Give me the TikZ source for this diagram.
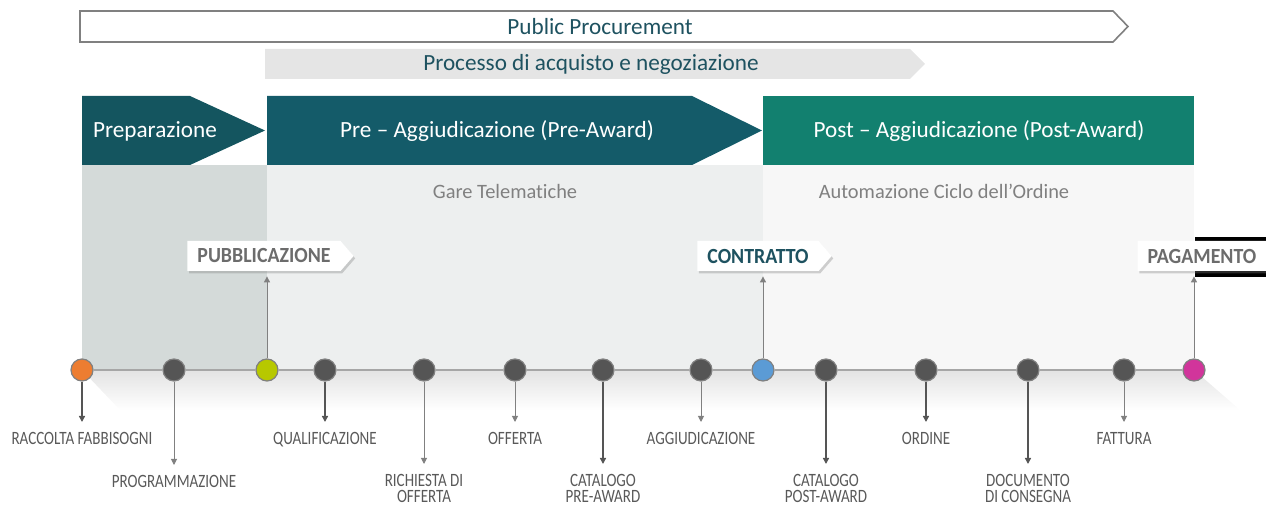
\documentclass[tikz,border=0pt]{standalone}
\usepackage{fontspec}
\setmainfont[Ligatures=NoCommon]{Carlito}
\newfontfamily\narrowfont[FakeStretch=0.8]{Carlito}
\newfontfamily\tagfont[FakeStretch=0.92]{Carlito}
\usetikzlibrary{arrows.meta,shadows,shapes.symbols}
\definecolor{tealprep}{HTML}{14555F}
\definecolor{tealpre}{HTML}{145B69}
\definecolor{tealpost}{HTML}{12806F}
\definecolor{tealtext}{HTML}{1E5260}
\definecolor{colprep}{HTML}{D4DAD9}
\definecolor{colpre}{HTML}{EDEFEF}
\definecolor{colpost}{HTML}{F7F7F7}
\definecolor{dotgray}{HTML}{555555}
\definecolor{linegray}{HTML}{A6A6A6}
\definecolor{labgray}{HTML}{595959}
\definecolor{dotorange}{HTML}{ED7D31}
\definecolor{dotlime}{HTML}{B7C800}
\definecolor{dotblue}{HTML}{5B9BD5}
\definecolor{dotpink}{HTML}{D1359B}
\tikzset{
  head/.style={font=\fontsize{11.6}{13}\selectfont, text=tealtext, inner sep=0pt},
  phase/.style={font=\fontsize{11.6}{13}\selectfont, text=white, inner sep=0pt},
  sub/.style={font=\fontsize{10.2}{12}\selectfont, text=gray, inner sep=0pt},
  dot/.style={circle, fill=dotgray, draw=gray, line width=0.6pt, minimum size=11pt, inner sep=0pt},
  lbl/.style={font=\narrowfont\fontsize{9.4}{8}\selectfont, text=labgray, align=center, inner sep=0pt, anchor=north},
  down/.style={draw=gray, line width=0.5pt, shorten >=5pt, -{Triangle[length=3pt,width=3pt]}},
  downdark/.style={down, draw=dotgray, line width=0.7pt},
  up/.style={draw=gray, line width=0.5pt, shorten >=2.5pt, -{Triangle[length=3pt,width=3pt]}},
  tag/.style={signal, signal to=east, signal pointer angle=98, fill=white,
    font=\tagfont\bfseries\fontsize{10.8}{12}\selectfont, text=gray!85!black,
    minimum height=15pt, inner xsep=5pt,
    drop shadow={shadow xshift=0.8pt, shadow yshift=-1.2pt, opacity=0.35}}
}
\begin{document}
\begin{tikzpicture}[x=0.5pt, y=-0.5pt]
	\useasboundingbox (0,0) rectangle (1266,507);
	% frecce in alto
	\draw[gray, line width=0.8pt, fill=white] (80,11) -- (1113,11) -- (1128,26.5) -- (1113,42) -- (80,42) -- cycle;
	\fill[gray!20] (265,49) -- (910,49) -- (925,64) -- (910,79) -- (265,79) -- cycle;
	\node[head] (pp) at (600,27) {Public Procurement};
	\node[head] (pan) at (591,64) {Processo di acquisto e negoziazione};
	% fasi
	\fill[tealprep] (82,96) -- (190,96) -- (265,130.5) -- (190,165) -- (82,165) -- cycle;
	\fill[tealpre] (267,96) -- (692,96) -- (762,130.5) -- (692,165) -- (267,165) -- cycle;
	\fill[tealpost] (763,96) rectangle (1194,165);
	\node[phase] (prep) at (155,131) {Preparazione};
	\node[phase] (pre) at (497,131) {Pre -- Aggiudicazione (Pre-Award)};
	\node[phase] (post) at (979,131) {Post -- Aggiudicazione (Post-Award)};
	% colonne
	\fill[colprep] (82,165) rectangle (267,370);
	\fill[colpre] (267,165) rectangle (763,370);
	\fill[colpost] (763,165) rectangle (1194,370);
	\shade[top color=gray!22, bottom color=white] (82,370) -- (1194,370) -- (1240,410) -- (120,410) -- cycle;
	\node[sub] (gare) at (505,191) {Gare Telematiche};
	\node[sub] (auto) at (944,191) {Automazione Ciclo dell’Ordine};
	% etichette
	\fill[black] (1195,237) rectangle (1266,277);
	\node[tag] (pub) at (264,256) {PUBBLICAZIONE};
	\node[tag, text=tealtext] (con) at (758,256) {CONTRATTO};
	\node[tag] (pag) at (1202,256) {PAGAMENTO};
	% linea del tempo
	\foreach \x/\n/\c in {82/1/dotorange, 174/2/dotgray, 267/3/dotlime, 325/4/dotgray, 424/5/dotgray,
	  515/6/dotgray, 603/7/dotgray, 701/8/dotgray, 763/9/dotblue, 826/10/dotgray, 926/11/dotgray,
	  1028/12/dotgray, 1124/13/dotgray, 1194/14/dotpink}
	  \node[dot, fill=\c] (d\n) at (\x,370) {};
	\foreach \a/\b in {1/2, 2/3, 3/4, 4/5, 5/6, 6/7, 7/8, 8/9, 9/10, 10/11, 11/12, 12/13, 13/14}
	  \draw[linegray, line width=1pt] (d\a) -- (d\b);
	% attivita
	\node[lbl] (raccolta) at (82,432) {RACCOLTA FABBISOGNI};
	\node[lbl] (prog) at (174,475) {PROGRAMMAZIONE};
	\node[lbl] (qual) at (325,432) {QUALIFICAZIONE};
	\node[lbl] (rich) at (424,474) {RICHIESTA DI\\OFFERTA};
	\node[lbl] (off) at (515,432) {OFFERTA};
	\node[lbl] (catpre) at (603,474) {CATALOGO\\PRE-AWARD};
	\node[lbl] (agg) at (701,432) {AGGIUDICAZIONE};
	\node[lbl] (catpost) at (826,474) {CATALOGO\\POST-AWARD};
	\node[lbl] (ord) at (926,432) {ORDINE};
	\node[lbl] (doc) at (1028,474) {DOCUMENTO\\DI CONSEGNA};
	\node[lbl] (fatt) at (1124,432) {FATTURA};
	\draw[downdark] (d1) -- (raccolta);
	\draw[down] (d2) -- (prog);
	\draw[downdark] (d4) -- (qual);
	\draw[down] (d5) -- (rich);
	\draw[down] (d6) -- (off);
	\draw[downdark] (d7) -- (catpre);
	\draw[down] (d8) -- (agg);
	\draw[downdark] (d10) -- (catpost);
	\draw[downdark] (d11) -- (ord);
	\draw[downdark] (d12) -- (doc);
	\draw[down] (d13) -- (fatt);
	\draw[up] (d3) -- (d3 |- pub.south);
	\draw[up] (d9) -- (d9 |- con.south);
	\draw[up] (d14) -- (d14 |- pag.south);
\end{tikzpicture}
\end{document}
